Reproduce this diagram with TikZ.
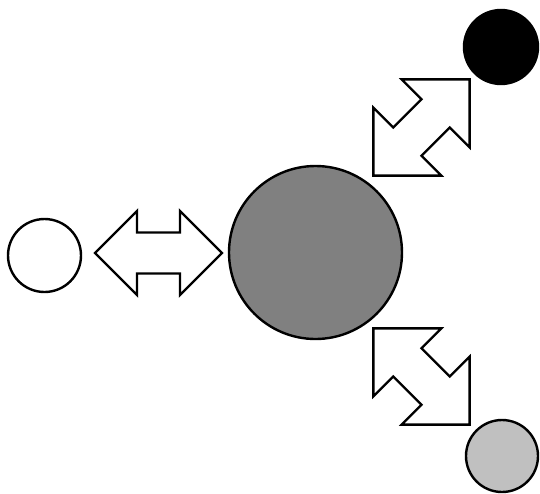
\documentclass[tikz,border=0pt]{standalone}
\usetikzlibrary{positioning}

\definecolor{planetgray}{HTML}{808080}
\definecolor{moongray}{HTML}{C0C0C0}

% two-headed block arrow along the local x axis:
% #1 half length, #2 head length (= head half width), #3 shaft half width
\newcommand{\twoway}[3]{%
  \draw[arrowbox] (-#1,0) -- (-#1+#2,#2) -- (-#1+#2,#3) -- (#1-#2,#3)
    -- (#1-#2,#2) -- (#1,0) -- (#1-#2,-#2) -- (#1-#2,-#3)
    -- (-#1+#2,-#3) -- (-#1+#2,-#2) -- cycle;}

\tikzset{
  body/.style={circle, draw, line width=2.4pt, inner sep=0pt},
  arrowbox/.style={draw, fill=white, line width=2.4pt, line join=miter}
}

\begin{document}
\begin{tikzpicture}[x=1pt,y=-1pt]
  \useasboundingbox (0,0) rectangle (540,493);

  % the bodies
  \node[body, fill=planetgray, minimum size=173pt] (centre) at (315.5,252.5) {};
  \node[body, fill=white, minimum size=73pt] (left) at (44.5,255.5) {};
  \node[body, fill=black, minimum size=74pt] (upper) at (501,47) {};
  \node[body, fill=moongray, minimum size=72pt] (lower) at (502,456) {};

  % exchange arrows
  \begin{scope}[shift={(158.5,253)}]
    \twoway{63.5}{42}{20.5}
  \end{scope}
  \begin{scope}[shift={(421.5,127.5)}, rotate=45]
    \twoway{68}{48}{20}
  \end{scope}
  \begin{scope}[shift={(421.5,376.5)}, rotate=-45]
    \twoway{68}{48}{20}
  \end{scope}
\end{tikzpicture}
\end{document}
